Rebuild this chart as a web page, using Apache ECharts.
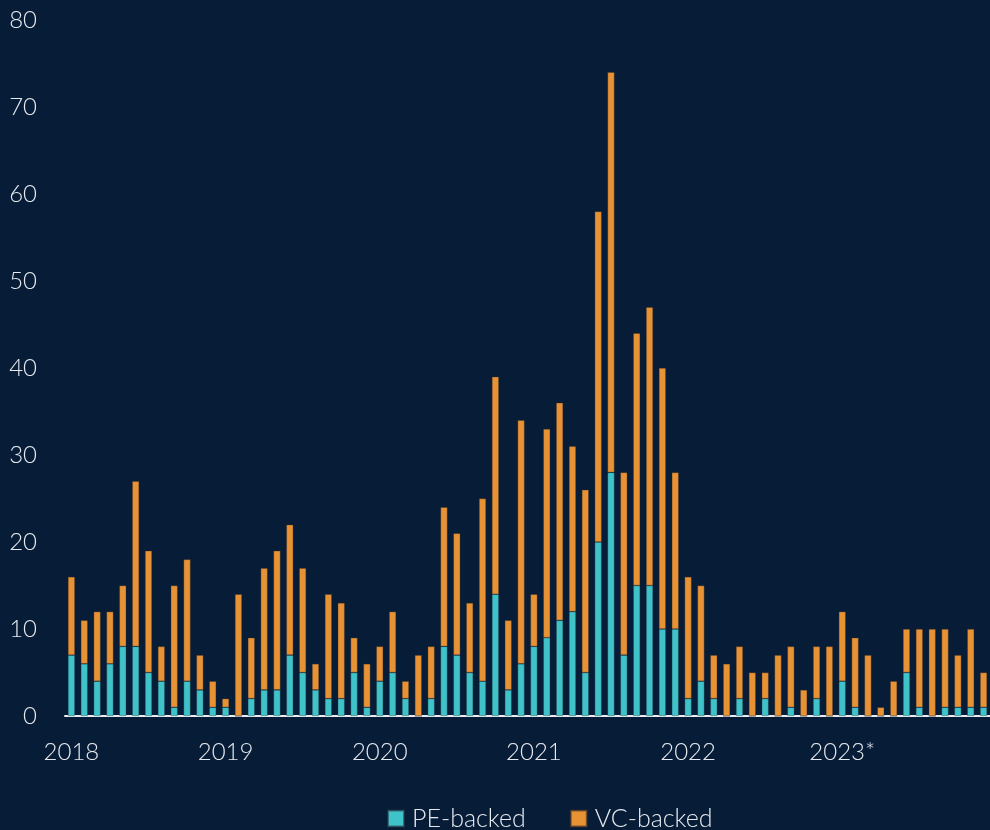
<!DOCTYPE html>
<html>
<head>
<meta charset="utf-8">
<script src="https://cdn.jsdelivr.net/npm/echarts@6/dist/echarts.min.js"></script>
<style>
  html, body { margin: 0; padding: 0; background: #061c37; }
  #chart { width: 990px; height: 830px; }
</style>
</head>
<body>
<div id="chart"></div>
<script type="text/javascript">
    // years shown on the x axis (one label per January)
    var yearLabels = ['2018', '2019', '2020', '2021', '2022', '2023*'];

    // PE-backed, monthly 2018-01 .. 2023-12
    var peBacked = [
        7, 6, 4, 6, 8, 8, 5, 4, 1, 4, 3, 1,
        1, 0, 2, 3, 3, 7, 5, 3, 2, 2, 5, 1,
        4, 5, 2, 0, 2, 8, 7, 5, 4, 14, 3, 6,
        8, 9, 11, 12, 5, 20, 28, 7, 15, 15, 10, 10,
        2, 4, 2, 0, 2, 0, 2, 0, 1, 0, 2, 0,
        4, 1, 0, 0, 0, 5, 1, 0, 1, 1, 1, 1
    ];
    // VC-backed, monthly 2018-01 .. 2023-12
    var vcBacked = [
        9, 5, 8, 6, 7, 19, 14, 4, 14, 14, 4, 3,
        1, 14, 7, 14, 16, 15, 12, 3, 12, 11, 4, 5,
        4, 7, 2, 7, 6, 16, 14, 8, 21, 25, 8, 28,
        6, 24, 25, 19, 21, 38, 46, 21, 29, 32, 30, 18,
        14, 11, 5, 6, 6, 5, 3, 7, 7, 3, 6, 8,
        8, 8, 7, 1, 4, 5, 9, 10, 9, 6, 9, 4
    ];

    var months = [];
    for (var i = 0; i < peBacked.length; i++) {
        var y = 2018 + Math.floor(i / 12);
        var m = (i % 12) + 1;
        months.push(y + '-' + (m < 10 ? '0' + m : m));
    }

    var txtFont = 'Lato, "Open Sans", sans-serif';

    var chart = echarts.init(document.getElementById('chart'));
    var options = {
        backgroundColor: '#061c37',
        animation: false,
        grid: {
            left: 65,
            right: -2,
            top: 20,
            bottom: 114
        },
        legend: {
            bottom: -6,
            left: 382,
            itemWidth: 16,
            itemHeight: 16,
            itemGap: 44,
            icon: 'rect',
            textStyle: {
                color: '#e6e9ee',
                fontSize: 25,
                fontWeight: 300,
                fontFamily: txtFont,
                padding: [0, 0, 0, 3]
            },
            data: ['PE-backed', 'VC-backed']
        },
        xAxis: {
            type: 'category',
            data: months,
            axisLine: {
                lineStyle: { color: '#e8ecf0', width: 2 }
            },
            axisTick: { show: false },
            axisLabel: {
                interval: 0,
                color: '#e6e9ee',
                fontSize: 24,
                fontWeight: 300,
                fontFamily: txtFont,
                margin: 24,
                formatter: function (val, idx) {
                    return idx % 12 === 0 ? yearLabels[idx / 12] : '';
                }
            }
        },
        yAxis: {
            type: 'value',
            min: 0,
            max: 80,
            interval: 10,
            splitLine: { show: false },
            axisLine: { show: false },
            axisTick: { show: false },
            axisLabel: {
                color: '#e6e9ee',
                fontSize: 24,
                fontWeight: 300,
                fontFamily: txtFont,
                margin: 28
            }
        },
        series: [{
            name: 'PE-backed',
            type: 'bar',
            stack: 'total',
            barWidth: 7,
            itemStyle: {
                color: '#40c2c9',
                borderColor: 'rgba(40,60,70,0.6)',
                borderWidth: 0.6
            },
            data: peBacked
        }, {
            name: 'VC-backed',
            type: 'bar',
            stack: 'total',
            barWidth: 7,
            itemStyle: {
                color: '#e89236',
                borderColor: 'rgba(70,50,40,0.6)',
                borderWidth: 0.6
            },
            data: vcBacked
        }]
    };
    chart.setOption(options);
</script>
</body>
</html>
